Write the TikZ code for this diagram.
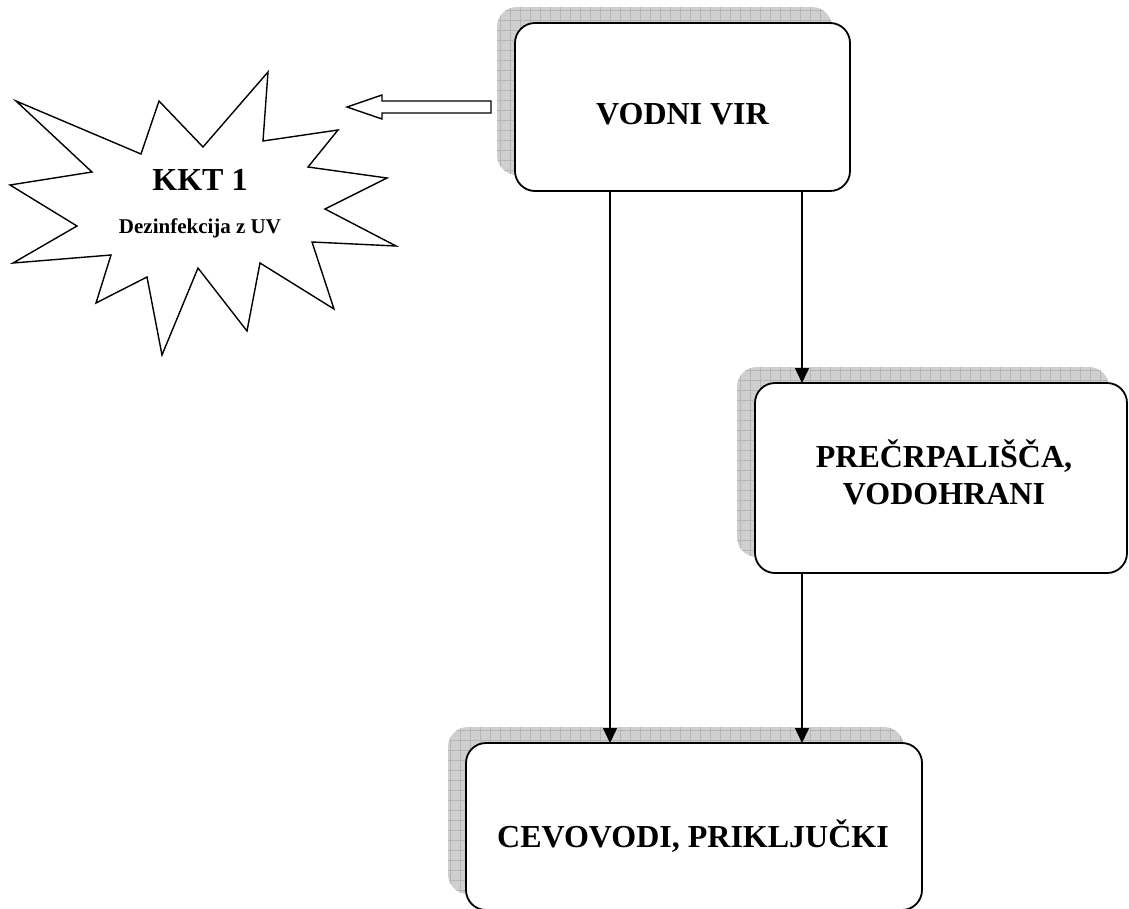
\documentclass[tikz,border=0pt]{standalone}
\usepackage{fontspec}
\setmainfont{Liberation Serif}
\usetikzlibrary{arrows.meta,backgrounds}

\tikzset{
  box/.style={draw, line width=1.8pt, rounded corners=20pt, fill=white,
              outer sep=0pt, inner sep=0pt},
  lbl/.style={font=\bfseries\fontsize{32}{33}\selectfont, inner sep=0pt, anchor=base},
  sublbl/.style={font=\bfseries\fontsize{21}{24}\selectfont, inner sep=0pt, anchor=base},
  conn/.style={line width=1.4pt, -{Triangle[length=15pt,width=14pt]}},
  outline/.style={line width=1.4pt, line join=miter, fill=white},
  shadowfill/.style={fill=gray!38},
  shadowgrid/.style={draw=gray!58, line width=0.6pt},
}

% hatched drop shadow behind a box, shifted up and to the left
\newcommand\dropshade[1]{%
  \begin{pgfonlayer}{background}
  \begin{scope}
    \clip[rounded corners=20pt] ([shift={(-18,-16)}]#1.north west)
      rectangle ([shift={(-18,-16)}]#1.south east);
    \fill[shadowfill] ([shift={(-18,-16)}]#1.north west)
      rectangle ([shift={(-18,-16)}]#1.south east);
    \draw[shadowgrid, step=10pt] ([shift={(-20,-18)}]#1.north west)
      grid ([shift={(-16,-14)}]#1.south east);
  \end{scope}
  \end{pgfonlayer}}

\begin{document}
\begin{tikzpicture}[x=1pt, y=-1pt]
  \useasboundingbox (0,0) rectangle (1129,908);

  % process boxes
  \node[box, minimum width=335pt, minimum height=168pt] (vir) at (682.5,107) {};
  \node[box, minimum width=372pt, minimum height=190pt] (pre) at (941,478) {};
  \node[box, minimum width=456pt, minimum height=167pt] (cev) at (694,826.5) {};
  \dropshade{vir}
  \dropshade{pre}
  \dropshade{cev}

  \node[lbl] (virtext) at (682.5,124) {VODNI VIR};
  \node[lbl] (pretexta) at (944,467) {PREČRPALIŠČA,};
  \node[lbl] (pretextb) at (944,504) {VODOHRANI};
  \node[lbl] (cevtext) at (693,847) {CEVOVODI, PRIKLJUČKI};

  % flow connectors
  \draw[conn] ([xshift=-72.5pt]vir.south) -- ([xshift=-72.5pt]vir.south |- cev.north);
  \draw[conn] ([xshift=119.5pt]vir.south) -- ([xshift=119.5pt]vir.south |- pre.north);
  \draw[conn] ([xshift=-139pt]pre.south) -- ([xshift=-139pt]pre.south |- cev.north);

  % critical control point burst
  \draw[outline] (268,72) -- (263,141) -- (338,130) -- (308,167) -- (387,178)
    -- (325,209) -- (396,246) -- (312,242) -- (334,309) -- (260,263)
    -- (247,331) -- (198,268) -- (162,355) -- (147,277) -- (96,303)
    -- (111,255) -- (13,263) -- (77,226) -- (10,185) -- (92,172)
    -- (16,101) -- (141,154) -- (159,101) -- (203,147) -- cycle;
  \node[lbl] (kkt) at (200,190) {KKT 1};
  \node[sublbl] (kktsub) at (200,233) {Dezinfekcija z UV};

  % hollow block arrow pointing to the burst
  \draw[outline] (347,107) -- (382,95) -- (382,101) -- (491,101) -- (491,113)
    -- (382,113) -- (382,119) -- cycle;
\end{tikzpicture}
\end{document}
